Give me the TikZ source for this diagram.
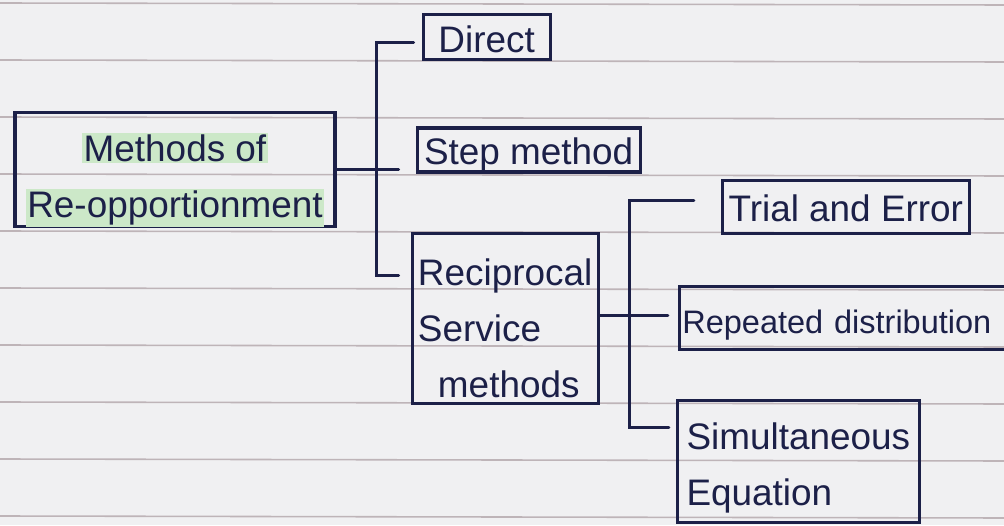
\documentclass[tikz,border=0pt]{standalone}
\usepackage{fontspec}
\newfontfamily\hand{Liberation Sans}
\usetikzlibrary{positioning,calc}
\definecolor{ink}{RGB}{28,32,72}
\definecolor{paper}{RGB}{240,240,242}
\definecolor{ruling}{RGB}{190,180,184}
\definecolor{marker}{RGB}{204,232,200}
\newcommand{\marked}[1]{{\setlength{\fboxsep}{1pt}\colorbox{marker}{#1}}}
\tikzstyle{box} = [draw=ink, text=ink, line width=1.8pt, inner sep=0pt, font=\hand\fontsize{21pt}{32pt}\selectfont]
\tikzstyle{onebox} = [box, text height=0.66cm, text depth=0.06cm]
\tikzstyle{tie} = [draw=ink, line width=1.8pt, line cap=round]
\tikzstyle{rule} = [draw=ruling, line width=0.9pt]

\begin{document}
\begin{tikzpicture}
    \useasboundingbox (0,0) rectangle (20.08,10.5);
    \clip (0,0) rectangle (20.08,10.5);
    \fill[paper] (0,0) rectangle (20.08,10.5);

    % ruled paper
    \foreach \k in {0,...,9}
      \draw[rule] (0,10.44-1.14*\k) -- (20.08,10.40-1.14*\k);

    % root
    \node[box, minimum width=6.4cm, minimum height=2.26cm, align=center] (root) at (3.5,7.11) {\rule{0pt}{0.98cm}\marked{Methods of}\\\marked{Re-opportionment}};

    % first level
    \node[onebox, minimum width=4.46cm, minimum height=0.88cm] (step) [right=1.58cm of root, yshift=0.39cm] {Step method};
    \node[onebox, minimum width=2.54cm, minimum height=0.9cm] (direct) [above right=1.30cm and 0.12cm of step.north west] {Direct};
    \node[box, minimum width=3.72cm, minimum height=3.4cm, align=left] (recip) [below=1.16cm of step.south west, anchor=north west, xshift=-0.1cm] {\rule{0pt}{0.95cm}Reciprocal\\Service\\\hspace*{0.4cm}methods};

    % second level
    \node[onebox, minimum width=4.94cm, minimum height=1.06cm] (trial) [right=2.42cm of recip, yshift=2.23cm] {Trial and Error};
    \node[onebox, minimum height=1.26cm, text width=6.9cm, align=left, font=\hand\fontsize{18.5pt}{28pt}\selectfont] (repeated) [right=1.56cm of recip] {\hspace*{0.06cm}Repeated distribution};
    \node[box, minimum width=4.84cm, minimum height=2.44cm, align=left] (simul) [right=1.52cm of recip, yshift=-2.86cm] {\rule{0pt}{0.8cm}Simultaneous\\Equation};

    % brackets
    \coordinate (fork1) at ([xshift=0.8cm]root.east);
    \coordinate (stepend) at ([xshift=-0.34cm]step.west);
    \draw[tie] (root.east) -- (stepend |- root.east);
    \draw[tie] ([xshift=-0.16cm,yshift=-0.11cm]direct.west) -| (fork1) |- ([xshift=-0.24cm,yshift=0.86cm]recip.west);

    \coordinate (fork2) at ([xshift=0.6cm,yshift=0.06cm]recip.east);
    \coordinate (repend) at ([xshift=-0.2cm]repeated.west);
    \draw[tie] (recip.east |- fork2) -- (repend |- fork2);
    \draw[tie] ([xshift=-0.54cm,yshift=0.13cm]trial.west) -| (fork2) |- ([xshift=-0.14cm,yshift=0.68cm]simul.west);
\end{tikzpicture}
\end{document}
